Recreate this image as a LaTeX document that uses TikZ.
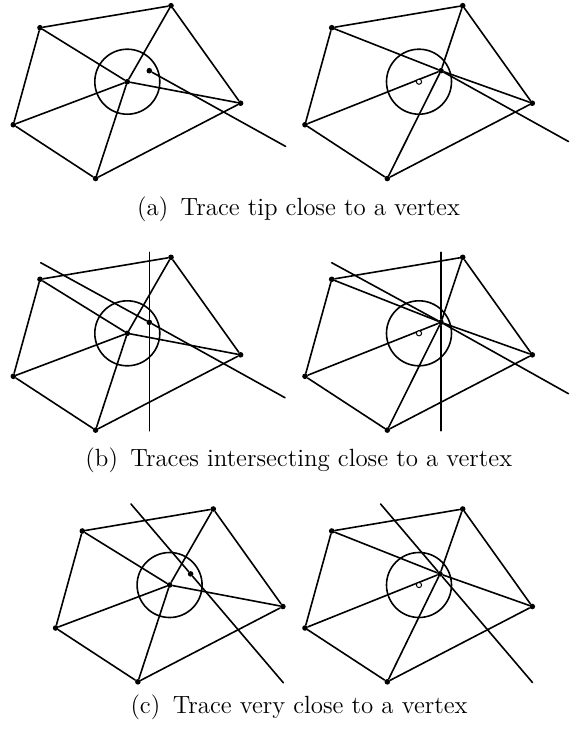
\documentclass[tikz,border=0pt]{standalone}
\tikzset{
  edge/.style={line width=0.8pt, line cap=round},
  trace/.style={line width=0.8pt, line cap=round},
  vtx/.style={circle, fill=black, inner sep=0pt, minimum size=2.8pt},
  oldpos/.style={circle, draw=black, fill=white, line width=0.5pt, inner sep=0pt, minimum size=2.6pt},
  ring/.style={circle, draw=black, line width=0.8pt, inner sep=0pt, minimum size=32.5pt},
  subcap/.style={font=\fontsize{12.45}{15}\selectfont, anchor=base, inner sep=0pt}
}
% #1 prefix, #2 x shift, #3 y shift, #4 position of the centre vertex (base frame)
\newcommand{\meshpanel}[4]{%
  \begin{scope}[shift={(#2,#3)}]
    \node[ring] (#1ring) at (419,81.7) {};
    \node[vtx] (#1T)  at (462.7,5.7) {};
    \node[vtx] (#1UL) at (331.7,27.7) {};
    \node[vtx] (#1L)  at (305,124.7) {};
    \node[vtx] (#1B)  at (387.3,178.5) {};
    \node[vtx] (#1R)  at (532.3,103.2) {};
    \node[vtx] (#1C)  at (#4) {};
  \end{scope}
  \draw[edge] (#1UL) -- (#1T) -- (#1R) -- (#1B) -- (#1L) -- (#1UL);
  \draw[edge] (#1C) -- (#1T);
  \draw[edge] (#1C) -- (#1UL);
  \draw[edge] (#1C) -- (#1L);
  \draw[edge] (#1C) -- (#1B);
  \draw[edge] (#1C) -- (#1R);
}
\begin{document}
\begin{tikzpicture}[x=0.5pt, y=-0.5pt]
  \useasboundingbox (0,0) rectangle (569,730);

  % ---------- (a) ----------
  \meshpanel{la}{-291.7}{0}{419,81.7}
  \node[vtx] (latip) at (149.3,70.7) {};
  \coordinate (laend) at (285.6,146.4);
  \draw[trace] (latip) -- (laend);

  \meshpanel{ra}{0}{0}{441,70.7}
  \node[oldpos] (raold) at (419,81.7) {};
  \coordinate (raend) at (568.5,141.5);
  \draw[trace] (raC) -- (raend);

  \node[subcap] (capa) at (298.5,215.8) {(a)\enspace Trace tip close to a vertex};

  % ---------- (b) ----------
  \meshpanel{lb}{-291.7}{251.6}{419,81.7}
  \node[vtx] (lbx) at (149.3,322.3) {};
  \coordinate (lbd1) at (40.7,262.7);
  \coordinate (lbd2) at (285,397.7);
  \coordinate (lbv1) at (149.3,252.3);
  \coordinate (lbv2) at (149.3,430.7);
  \draw[trace] (lbd1) -- (lbx) -- (lbd2);
  \draw[trace] (lbv1) -- (lbx) -- (lbv2);

  \meshpanel{rb}{0}{251.6}{441,70.7}
  \node[oldpos] (rbold) at (419,333.3) {};
  \coordinate (rbd1) at (331.7,262.7);
  \coordinate (rbd2) at (568.5,393.7);
  \coordinate (rbv1) at (441,252.3);
  \coordinate (rbv2) at (441,430.7);
  \draw[trace] (rbd1) -- (rbC) -- (rbd2);
  \draw[trace] (rbv1) -- (rbC) -- (rbv2);

  \node[subcap] (capb) at (298.8,466.3) {(b)\enspace Traces intersecting close to a vertex};

  % ---------- (c) ----------
  \meshpanel{lc}{-249.4}{503.3}{419,81.7}
  \node[vtx] (lcx) at (190.6,573.9) {};
  \coordinate (lct1) at (131,504);
  \coordinate (lct2) at (283.3,682.7);
  \draw[trace] (lct1) -- (lcx) -- (lct2);

  \meshpanel{rc}{0}{503.3}{440,70.6}
  \node[oldpos] (rcold) at (419,585) {};
  \coordinate (rct1) at (380.6,504);
  \coordinate (rct2) at (532.5,682.5);
  \draw[trace] (rct1) -- (rcC) -- (rct2);

  \node[subcap] (capc) at (299,713.3) {(c)\enspace Trace very close to a vertex};
\end{tikzpicture}
\end{document}
